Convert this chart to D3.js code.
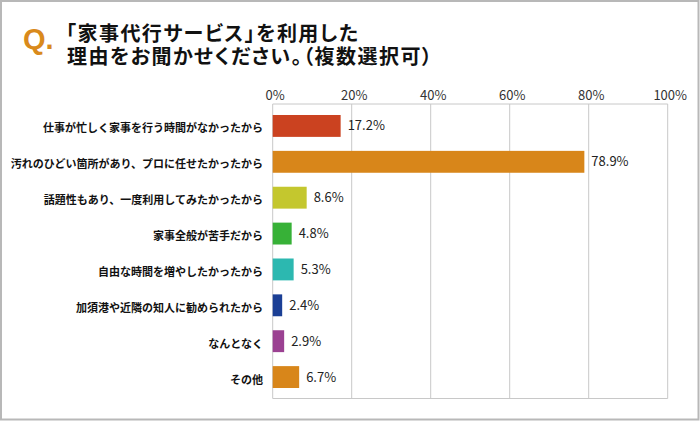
<!DOCTYPE html>
<html><head><meta charset="utf-8">
<script src="https://cdn.jsdelivr.net/npm/d3@7"></script>
<style>body{margin:0;background:#fff}svg{display:block}.tt{font-feature-settings:"palt" 1}</style>
</head><body>
<svg id="c" width="700" height="421"></svg>
<script>
const categories = ["仕事が忙しく家事を行う時間がなかったから","汚れのひどい箇所があり、プロに任せたかったから","話題性もあり、一度利用してみたかったから","家事全般が苦手だから","自由な時間を増やしたかったから","加須港や近隣の知人に勧められたから","なんとなく","その他"];
const values = [17.2, 78.9, 8.6, 4.8, 5.3, 2.4, 2.9, 6.7];
const colors = ["#cb4220","#d8861a","#c4c72e","#37b137","#2cb8b0","#1b3f95","#9b4192","#d8861a"];
const ticks = [0,20,40,60,80,100];
const titleLines = ["「家事代行サービス」を利用した","理由をお聞かせください。（複数選択可）"];

(function(){
const svg = d3.select("#c");
const cjk = "'Noto Sans CJK JP','Noto Sans',sans-serif";
svg.append("rect").attr("x",1).attr("y",1).attr("width",697.5).attr("height",418.5)
  .attr("fill","#fff").attr("stroke","#b8b8b8").attr("stroke-width",2);

svg.append("text").attr("x",23).attr("y",48.5).text("Q.")
  .attr("font-family","'Liberation Sans',Arial,sans-serif").attr("font-weight","bold")
  .attr("font-size",29).attr("fill","#d98a1c");
const lens = [292, 365];
const tt = svg.append("text").attr("class","tt")
  .attr("font-family",cjk).attr("font-weight","bold").attr("font-size",20).attr("fill","#111");
tt.selectAll("tspan").data(titleLines).join("tspan")
  .attr("x",(d,i)=>i===0?66:67).attr("y",(d,i)=>41+i*23)
  .attr("textLength",(d,i)=>lens[i]).attr("lengthAdjust","spacing").text(d=>d);

const x = d3.scaleLinear().domain([0,100]).range([272.7,667.7]);
const y = d3.scaleBand().domain(categories).range([108,395]).paddingInner(0.39).paddingOuter(0.195);
const plotTop = 104, plotBottom = 398.5;

const g = svg.append("g");
g.selectAll(".grid").data(ticks).join("line").attr("class","grid")
  .attr("x1",d=>x(d)).attr("x2",d=>x(d)).attr("y1",plotTop).attr("y2",plotBottom)
  .attr("stroke","#c8c8c8").attr("stroke-width",1);
g.append("line").attr("x1",x(0)).attr("x2",x(100)).attr("y1",plotTop).attr("y2",plotTop).attr("stroke","#c8c8c8");
g.append("line").attr("x1",x(0)).attr("x2",x(100)).attr("y1",plotBottom).attr("y2",plotBottom).attr("stroke","#c8c8c8");

const axis = d3.axisTop(x).tickValues(ticks).tickFormat(d=>d+"%").tickSize(0).tickPadding(0);
const ax = svg.append("g").attr("transform",`translate(2,${99.5})`).call(axis);
ax.select(".domain").remove();
ax.selectAll("text").attr("font-family",cjk).attr("font-size",13).attr("fill","#333").attr("dy",0);

g.selectAll(".bar").data(values).join("rect").attr("class","bar")
  .attr("x",x(0)).attr("y",(d,i)=>y(categories[i])).attr("height",y.bandwidth())
  .attr("width",d=>x(d)-x(0)).attr("fill",(d,i)=>colors[i]);

g.selectAll(".val").data(values).join("text").attr("class","val")
  .attr("x",d=>x(d)+7).attr("y",(d,i)=>y(categories[i])+y.bandwidth()/2+4.5)
  .text(d=>d.toFixed(1)+"%").attr("font-family",cjk).attr("font-size",13).attr("fill","#222");

g.selectAll(".cat").data(categories).join("text").attr("class","cat")
  .attr("x",263).attr("y",d=>y(d)+y.bandwidth()/2+6.5).attr("text-anchor","end")
  .text(d=>d).attr("font-family",cjk).attr("font-weight","bold").attr("font-size",11).attr("fill","#111");
})();
</script>
</body></html>
